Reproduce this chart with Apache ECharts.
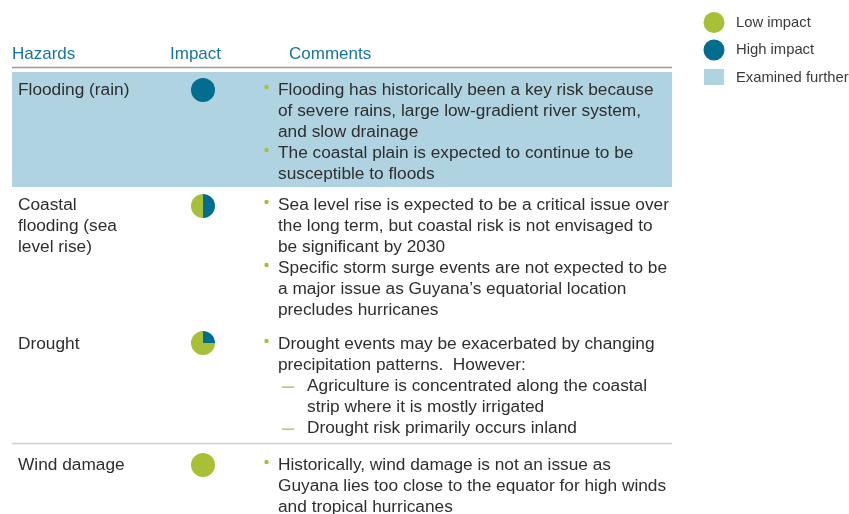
<!DOCTYPE html>
<html><head><meta charset="utf-8">
<script src="https://cdn.jsdelivr.net/npm/echarts@6/dist/echarts.min.js"></script>
<style>html,body{margin:0;padding:0;background:#fff}#c{width:849px;height:514px}</style>
</head><body><div id="c"></div>
<script>
const headers = ['Hazards', 'Impact', 'Comments'];
const hazards = [['Flooding (rain)'], ['Coastal', 'flooding (sea', 'level rise)'], ['Drought'], ['Wind damage']];
const highShare = [1, 0.5, 0.25, 0];
const lowShare = [0, 0.5, 0.75, 1];
const examined = [true, false, false, false];
const comments = [
  [[0,'Flooding has historically been a key risk because'],[1,'of severe rains, large low-gradient river system,'],[1,'and slow drainage'],[0,'The coastal plain is expected to continue to be'],[1,'susceptible to floods']],
  [[0,'Sea level rise is expected to be a critical issue over'],[1,'the long term, but coastal risk is not envisaged to'],[1,'be significant by 2030'],[0,'Specific storm surge events are not expected to be'],[1,'a major issue as Guyana\u2019s equatorial location'],[1,'precludes hurricanes']],
  [[0,'Drought events may be exacerbated by changing'],[1,'precipitation patterns.  However:'],[2,'Agriculture is concentrated along the coastal'],[3,'strip where it is mostly irrigated'],[2,'Drought risk primarily occurs inland']],
  [[0,'Historically, wind damage is not an issue as'],[1,'Guyana lies too close to the equator for high winds'],[1,'and tropical hurricanes']]
];
const legendItems = ['Low impact', 'High impact', 'Examined further'];

const BLUE = '#036d8f', GREEN = '#a8bf38', LIGHT = '#b0d3e2', TEAL = '#17759a', TXT = '#2e2e2e';
const FONT = '"Liberation Sans", Arial, sans-serif';
const rowTop = [90, 205, 344, 465];
const LH = 21;

const chart = echarts.init(document.getElementById('c'), null, {renderer: 'canvas'});
const graphic = [];
examined.forEach((e, i) => { if (e) graphic.push({type:'rect', z:0, shape:{x:12, y:72, width:660, height:115}, style:{fill:LIGHT}}); });
const hx = [12, 170, 289];
headers.forEach((h, i) => graphic.push({type:'text', x:hx[i], y:54, style:{text:h, fill:TEAL, font:'17px ' + FONT, textVerticalAlign:'middle'}}));
graphic.push({type:'line', shape:{x1:12, y1:67.5, x2:672, y2:67.5}, style:{stroke:'#9a9a9a', lineWidth:1.5}});
graphic.push({type:'line', shape:{x1:12, y1:443.5, x2:672, y2:443.5}, style:{stroke:'#cfcfcf', lineWidth:1.5}});
hazards.forEach((lines, i) => {
  lines.forEach((t, k) => graphic.push({type:'text', x:18, y:rowTop[i] + k*LH, style:{text:t, fill:TXT, font:'17.3px ' + FONT, textVerticalAlign:'middle'}}));
  comments[i].forEach((c, k) => {
    const lvl = c[0], y = rowTop[i] + k*LH;
    if (lvl === 0) graphic.push({type:'circle', shape:{cx:266.5, cy:y-3, r:2.2}, style:{fill:GREEN}});
    if (lvl === 2) graphic.push({type:'rect', shape:{x:282, y:y+0.5, width:12, height:1.3}, style:{fill:GREEN}});
    const x = lvl < 2 ? 278 : 307;
    graphic.push({type:'text', x:x, y:y, style:{text:c[1], fill:TXT, font:'17.3px ' + FONT, textVerticalAlign:'middle'}});
  });
});
graphic.push({type:'circle', shape:{cx:714, cy:22.5, r:10.5}, style:{fill:GREEN}});
graphic.push({type:'circle', shape:{cx:714, cy:50, r:10.5}, style:{fill:BLUE}});
graphic.push({type:'rect', shape:{x:704, y:69, width:20, height:16}, style:{fill:LIGHT}});
[22.5, 50, 78].forEach((y, i) => graphic.push({type:'text', x:736, y:y, style:{text:legendItems[i], fill:'#3a3a3a', font:'14.8px ' + FONT, textVerticalAlign:'middle'}}));

const pieY = [90, 206, 343, 465];
const series = hazards.map((h, i) => ({
  type:'pie', center:[203, pieY[i]], radius:[0, 12], startAngle:90, clockwise:true,
  silent:true, label:{show:false}, labelLine:{show:false}, stillShowZeroSum:false,
  emphasis:{disabled:true}, animation:false,
  itemStyle:{borderWidth:0},
  data:[{name:'High impact', value:highShare[i], itemStyle:{color:BLUE}}, {name:'Low impact', value:lowShare[i], itemStyle:{color:GREEN}}]
}));
chart.setOption({animation:false, graphic:graphic, series:series});
</script></body></html>
